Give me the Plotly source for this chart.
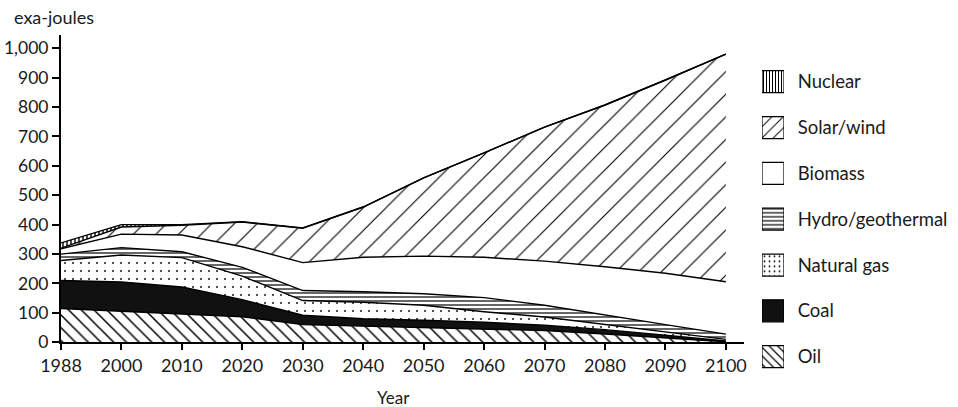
import plotly.graph_objects as go

# ---------------- data ----------------
years = ["1988", "2000", "2010", "2020", "2030", "2040", "2050", "2060", "2070", "2080", "2090", "2100"]

oil = [115, 105, 96, 87, 60, 55, 52, 46, 40, 28, 16, 2]
coal = [95, 100, 92, 58, 32, 25, 23, 22, 18, 15, 8, 3]
natural_gas = [68, 92, 100, 80, 50, 56, 51, 36, 28, 17, 11, 5]
hydro_geothermal = [22, 25, 20, 30, 34, 36, 39, 48, 40, 32, 25, 18]
biomass = [18, 46, 57, 70, 95, 117, 128, 137, 150, 165, 175, 178]
solar_wind = [2, 24, 33, 84, 117, 171, 266, 355, 456, 550, 657, 774]
nuclear = [18, 8, 2, 1, 1, 0, 0, 0, 0, 0, 0, 0]

y_ticks = [0, 100, 200, 300, 400, 500, 600, 700, 800, 900, 1000]

legend_names = ["Oil", "Coal", "Natural gas", "Hydro/geothermal", "Biomass", "Solar/wind", "Nuclear"]

# ---------------- styles ----------------
FONT = "Lato"
TXT = "#1a1a1a"
W, H = 958, 407

styles = {
    "Oil": (dict(shape="\\", size=9, solidity=0.17), "white"),
    "Coal": (None, "#111111"),
    "Natural gas": (dict(shape=".", size=8, solidity=0.04), "white"),
    "Hydro/geothermal": (dict(shape="-", size=4, solidity=0.3), "white"),
    "Biomass": (None, "white"),
    "Solar/wind": (dict(shape="/", size=16, solidity=0.07), "white"),
    "Nuclear": (dict(shape="|", size=4, solidity=0.35), "white"),
}
legend_styles = {
    "Oil": dict(shape="\\", size=6, solidity=0.2),
    "Coal": None,
    "Natural gas": dict(shape=".", size=5, solidity=0.1),
    "Hydro/geothermal": dict(shape="-", size=4, solidity=0.3),
    "Biomass": None,
    "Solar/wind": dict(shape="/", size=8, solidity=0.12),
    "Nuclear": dict(shape="|", size=3, solidity=0.35),
}

series = [
    ("Oil", oil),
    ("Coal", coal),
    ("Natural gas", natural_gas),
    ("Hydro/geothermal", hydro_geothermal),
    ("Biomass", biomass),
    ("Solar/wind", solar_wind),
    ("Nuclear", nuclear),
]

fig = go.Figure()
for name, vals in series:
    pat, fc = styles[name]
    kw = {}
    if pat is not None:
        kw["fillpattern"] = dict(fgcolor="black", bgcolor=fc, fillmode="replace", **pat)
    fig.add_trace(go.Scatter(
        x=years, y=vals, name=name, mode="lines", stackgroup="one",
        line=dict(color="black", width=1.4), fillcolor=fc,
        showlegend=False, hoverinfo="skip", **kw))

# legend built as a tiny bar chart on its own axes (one bar per series)
for name in legend_names:
    pat = legend_styles[name]
    fc = styles[name][1]
    marker = dict(color=fc, line=dict(color="black", width=1.2))
    if pat is not None:
        marker["pattern"] = dict(fgcolor="black", bgcolor=fc, fillmode="replace", **pat)
    fig.add_trace(go.Bar(
        x=[1], y=[name], orientation="h", xaxis="x2", yaxis="y2",
        showlegend=False, hoverinfo="skip", marker=marker))


def px_x(p):
    return p / W


def px_y(p):
    return 1 - p / H


fig.update_layout(
    width=W, height=H,
    margin=dict(l=0, r=0, t=0, b=0),
    paper_bgcolor="white", plot_bgcolor="white",
    font=dict(family=FONT, size=18, color=TXT),
    barmode="overlay",
    bargap=0.52,
    xaxis=dict(
        type="category", domain=[px_x(61), px_x(744)], range=[0, 11.3],
        showline=True, linecolor="black", linewidth=2,
        ticks="outside", ticklen=6, tickwidth=1.5, tickcolor="black",
        showgrid=False, zeroline=False, anchor="y", automargin=False,
        tickfont=dict(size=18),
    ),
    yaxis=dict(
        domain=[px_y(342.3), px_y(35)], range=[0, 1045],
        tickvals=y_ticks, tickformat=",",
        showline=True, linecolor="black", linewidth=2,
        ticks="outside", ticklen=7, tickwidth=1.5, tickcolor="black",
        showgrid=False, zeroline=False, anchor="x", automargin=False,
        tickfont=dict(size=17.5),
    ),
    xaxis2=dict(
        domain=[px_x(762), px_x(784)], range=[0, 1], anchor="y2",
        visible=False, fixedrange=True, automargin=False,
    ),
    yaxis2=dict(
        domain=[px_y(379.6), px_y(58.8)], type="category",
        categoryorder="array", categoryarray=legend_names, range=[-0.5, 6.5],
        anchor="x2", side="right", showline=False, showgrid=False, zeroline=False,
        ticks="outside", ticklen=9, tickcolor="rgba(0,0,0,0)", automargin=False,
        tickfont=dict(size=18.5),
    ),
    annotations=[
        dict(text="exa-joules", xref="paper", yref="paper", x=px_x(12), y=px_y(17),
             xanchor="left", yanchor="middle", showarrow=False, font=dict(size=18)),
        dict(text="Year", xref="x", yref="paper", x=5.5, y=px_y(397),
             xanchor="center", yanchor="middle", showarrow=False, font=dict(size=17)),
    ],
)

# remove the browser's default 8px body margin so the figure fills the window exactly
fig.write_html("out.html", config={"displayModeBar": False},
               post_script="document.body.style.margin='0px';")
